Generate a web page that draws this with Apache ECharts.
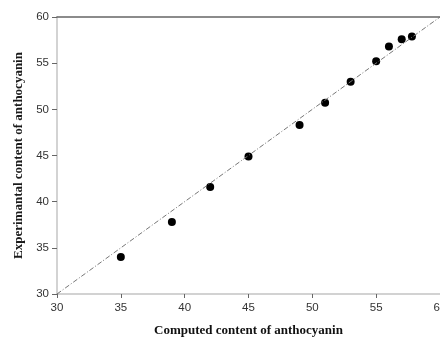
<!DOCTYPE html>
<html>
<head>
<meta charset="utf-8">
<script src="https://cdn.jsdelivr.net/npm/echarts@6/dist/echarts.min.js"></script>
<style>
  html, body { margin: 0; padding: 0; background: #fff; }
  #chart { width: 440px; height: 343px; }
</style>
</head>
<body>
<div id="chart"></div>
<script>
// computed vs experimental anthocyanin
const computed = [35, 39, 42, 45, 49, 51, 53, 55, 56, 57, 57.8]
const experimental = [34, 37.8, 41.6, 44.9, 48.3, 50.7, 53.0, 55.2, 56.8, 57.6, 57.9]
const fitLine = [[30, 30], [60, 60]]

const points = computed.map((c, i) => [c, experimental[i]])

const chart = echarts.init(document.getElementById('chart'))
const option = {
    animation: false,
    grid: { left: 57, right: 0, top: 17, bottom: 49, containLabel: false, outerBoundsMode: 'none' },
    xAxis: [
        {
            type: 'value',
            min: 30, max: 60, interval: 5,
            name: 'Computed content of anthocyanin',
            nameLocation: 'middle',
            nameGap: 30,
            nameTextStyle: { fontFamily: 'Liberation Serif', fontWeight: 'bold', fontSize: 13, color: '#111' },
            axisLine: { lineStyle: { color: '#c4c4c4', width: 1.5 } },
            axisTick: { length: 4, lineStyle: { color: '#666' } },
            axisLabel: { fontFamily: 'Liberation Sans', fontSize: 11.5, color: '#333', margin: 8 },
            splitLine: { show: false }
        },
        {
            type: 'value',
            position: 'top',
            min: 30, max: 60,
            axisLine: { show: true, lineStyle: { color: '#666', width: 1.5 } },
            axisTick: { show: false },
            axisLabel: { show: false },
            splitLine: { show: false }
        }
    ],
    yAxis: {
        type: 'value',
        min: 30, max: 60, interval: 5,
        name: 'Experimantal content of anthocyanin',
        nameLocation: 'middle',
        nameGap: 32,
        nameTextStyle: { fontFamily: 'Liberation Serif', fontWeight: 'bold', fontSize: 13, color: '#1a1a1a' },
        axisLine: { show: true, lineStyle: { color: '#c4c4c4', width: 1.5 } },
        axisTick: { show: true, length: 5, lineStyle: { color: '#666' } },
        axisLabel: { fontFamily: 'Liberation Sans', fontSize: 11.5, color: '#333', margin: 8 },
        splitLine: { show: false }
    },
    series: [
        {
            type: 'line',
            data: fitLine,
            symbol: 'none',
            lineStyle: { color: '#777', width: 1, type: [5, 2, 1, 2] },
            silent: true
        },
        {
            type: 'scatter',
            data: points,
            symbolSize: 8,
            itemStyle: { color: '#000', opacity: 1 }
        }
    ]
}
chart.setOption(option)
</script>
</body>
</html>
